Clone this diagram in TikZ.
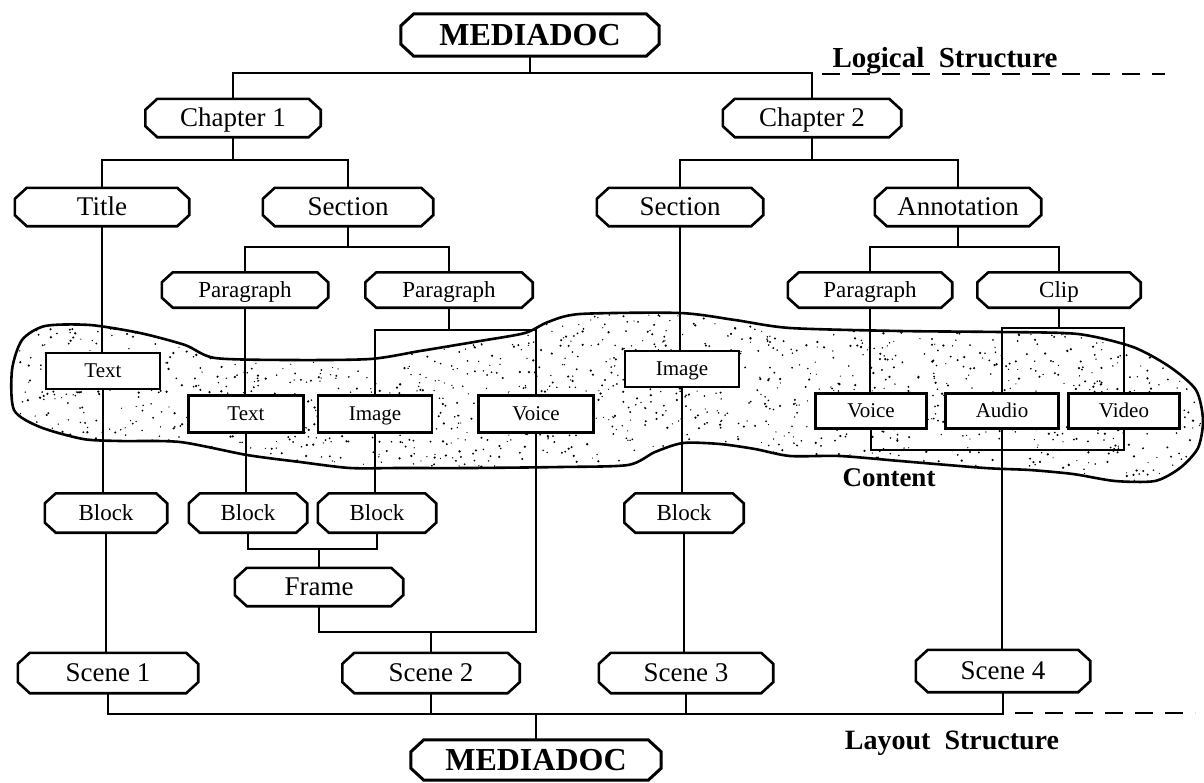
\documentclass[tikz,border=0pt]{standalone}
\usepackage{fontspec}
\setmainfont{Liberation Serif}
\begin{document}
\begin{tikzpicture}[x=1pt,y=-1pt,
  box/.style={rectangle, inner sep=0pt, text depth=0pt},
  bigbox/.style={box, minimum height=42pt, text height=21pt,
    font=\fontsize{32}{34}\selectfont\bfseries},
  lbox/.style={box, minimum height=38pt, text height=17.8pt,
    font=\fontsize{27}{30}\selectfont},
  sbox/.style={box, minimum height=35pt, text height=15.2pt,
    font=\fontsize{23}{26}\selectfont},
  item/.style={rectangle, draw, line width=2.6pt, fill=white, inner sep=0pt,
    text height=13.9pt, text depth=0pt,
    minimum height=36pt, font=\fontsize{21}{23}\selectfont},
  outline/.style={line join=miter},
  link/.style={line width=2.2pt},
  dashline/.style={line width=2.6pt, dash pattern=on 18pt off 12pt},
  tag/.style={font=\fontsize{28}{30}\selectfont\bfseries, inner sep=0pt}]

\useasboundingbox (0,0) rectangle (1204,782);

% ---- the stippled content region ----
\def\contentregion{plot[smooth cycle, tension=0.45] coordinates {
  (12,370) (22,340) (45,326) (90,325) (140,333) (185,345) (215,358)
  (290,360) (370,359) (420,351) (480,341) (525,333) (548,322) (580,314)
  (680,313) (735,320) (790,328) (900,331) (1000,332) (1078,334)
  (1133,347) (1170,367) (1196,390) (1203,420) (1198,448) (1180,468)
  (1155,481) (1115,481) (1073,474) (1030,470) (985,468) (900,461)
  (840,456) (790,456) (755,449) (720,444) (683,443) (655,452) (628,465)
  (560,467) (470,468) (400,468) (350,468) (300,462) (247,455) (180,442)
  (120,441) (83,439) (40,427) (14,410)}}
\begin{scope}
  \clip \contentregion;
  \pgfmathsetseed{11}
  \foreach \i in {1,...,1900}{
    \pgfmathsetmacro{\rx}{12+1190*rnd}
    \pgfmathsetmacro{\ry}{312+172*rnd}
    \pgfmathsetmacro{\rr}{0.6+0.7*rnd}
    \fill (\rx,\ry) circle[radius=\rr pt];
  }
\end{scope}
\draw[line width=2.6pt] \contentregion;

% ---- logical structure ----
\node[bigbox, minimum width=258pt] (top) at (530,35) {MEDIADOC};
\node[lbox, minimum width=175pt] (ch1) at (233,118) {Chapter 1};
\node[lbox, minimum width=178pt] (ch2) at (812,118) {Chapter 2};
\node[lbox, minimum width=174pt] (title) at (102,207) {Title};
\node[lbox, minimum width=170pt] (sec1) at (348,207) {Section};
\node[lbox, minimum width=166pt] (sec2) at (680,207) {Section};
\node[lbox, minimum width=166pt] (annot) at (958,207) {Annotation};
\node[sbox, minimum width=166pt] (para1) at (245,290) {Paragraph};
\node[sbox, minimum width=167pt] (para2) at (449,290) {Paragraph};
\node[sbox, minimum width=164pt] (para3) at (870,290) {Paragraph};
\node[sbox, minimum width=163pt] (clip) at (1059,290) {Clip};

% ---- content items ----
\node[item, minimum width=114pt] (text1) at (103,371) {Text};
\node[item, minimum width=115pt, minimum height=37pt] (text2) at (246,414) {Text};
\node[item, minimum width=114pt, minimum height=37pt] (image1) at (375,414) {Image};
\node[item, minimum width=115pt, minimum height=37pt] (voice1) at (536,414) {Voice};
\node[item, minimum width=114pt] (image2) at (682,369) {Image};
\node[item, minimum width=111pt, minimum height=35pt] (voice2) at (871,411) {Voice};
\node[item, minimum width=113pt, minimum height=35pt] (audio) at (1002,411) {Audio};
\node[item, minimum width=111pt, minimum height=35pt] (video) at (1124,411) {Video};
\node[tag, font=\fontsize{27}{30}\selectfont\bfseries] (content) at (889,478) {Content};

% ---- layout structure ----
\node[sbox, minimum width=122pt, minimum height=39pt] (block1) at (106,513) {Block};
\node[sbox, minimum width=118pt, minimum height=39pt] (block2) at (248,513) {Block};
\node[sbox, minimum width=118pt, minimum height=39pt] (block3) at (377,513) {Block};
\node[sbox, minimum width=119pt, minimum height=39pt] (block4) at (684,513) {Block};
\node[lbox, minimum width=168pt] (frame) at (319,587) {Frame};
\node[lbox, minimum width=180pt, minimum height=40pt] (scene1) at (108,673) {Scene 1};
\node[lbox, minimum width=177pt, minimum height=40pt] (scene2) at (431,673) {Scene 2};
\node[lbox, minimum width=174pt, minimum height=40pt] (scene3) at (686,673) {Scene 3};
\node[lbox, minimum width=174pt, minimum height=42pt] (scene4) at (1003,671) {Scene 4};
\node[bigbox, minimum width=250pt, minimum height=40pt] (bot) at (536,760) {MEDIADOC};

\node[tag, font=\fontsize{29}{31}\selectfont\bfseries, anchor=base] (logical) at (945,67) {Logical\ \ Structure};
\node[tag, anchor=base] (layout) at (952,749) {Layout\ \ Structure};

% ---- octagonal outlines of the structure nodes ----
\foreach \n/\cx/\cy/\lw in {top/13/12/3, bot/13/12/3,
    ch1/12/11/2.6, ch2/12/11/2.6, title/12/11/2.6, sec1/12/11/2.6,
    sec2/12/11/2.6, annot/12/11/2.6, frame/12/11/2.6, scene1/12/11/2.6,
    scene2/12/11/2.6, scene3/12/11/2.6, scene4/12/11/2.6,
    para1/11/10/2.6, para2/11/10/2.6, para3/11/10/2.6, clip/11/10/2.6,
    block1/11/10/2.6, block2/11/10/2.6, block3/11/10/2.6, block4/11/10/2.6}{
  \draw[outline, line width=\lw pt]
    ([xshift=\cx pt]\n.north west) -- ([xshift=-\cx pt]\n.north east)
    -- ([yshift=-\cy pt]\n.north east) -- ([yshift=\cy pt]\n.south east)
    -- ([xshift=-\cx pt]\n.south east) -- ([xshift=\cx pt]\n.south west)
    -- ([yshift=\cy pt]\n.south west) -- ([yshift=-\cy pt]\n.north west)
    -- cycle;
}

% ---- connectors: logical tree ----
\draw[link] (top.south) -- ++(0,17) coordinate (b0);
\draw[link] (ch1.north) |- (b0) -| (ch2.north);
\draw[link] (ch1.south) -- ++(0,23) coordinate (b1);
\draw[link] (title.north) |- (b1) -| (sec1.north);
\draw[link] (ch2.south) -- ++(0,23) coordinate (b2);
\draw[link] (sec2.north) |- (b2) -| (annot.north);
\draw[link] (sec1.south) -- ++(0,21) coordinate (b3);
\draw[link] (para1.north) |- (b3) -| (para2.north);
\draw[link] (annot.south) -- ++(0,21) coordinate (b4);
\draw[link] (para3.north) |- (b4) -| (clip.north);

% ---- connectors: down to the content ----
\draw[link] (title.south) -- (title.south |- text1.north);
\draw[link] (para1.south) -- (para1.south |- text2.north);
\draw[link] (para2.south) -- ++(0,22) coordinate (b5);
\draw[link] (image1.north) |- (b5) -| (voice1.north);
\draw[link] (sec2.south) -- (sec2.south |- image2.north);
\draw[link] (para3.south) -- (para3.south |- voice2.north);
\draw[link] (clip.south) -- ++(0,20) coordinate (b6);
\draw[link] (audio.north) |- (b6) -| (video.north);
\draw[link] (voice2.south) -- ++(0,20) -| (video.south);

% ---- connectors: layout tree ----
\draw[link] (text1.south) -- (text1.south |- block1.north);
\draw[link] (text2.south) -- (text2.south |- block2.north);
\draw[link] (image1.south) -- (image1.south |- block3.north);
\draw[link] (image2.south) -- (image2.south |- block4.north);
\draw[link] (block2.south) -- ++(0,16) coordinate (b7) -| (block3.south);
\draw[link] (frame.north) -- (frame.north |- b7);
\draw[link] (frame.south) -- ++(0,26) coordinate (b8) -| (voice1.south);
\draw[link] (scene2.north) -- (scene2.north |- b8);
\draw[link] (block1.south) -- (block1.south |- scene1.north);
\draw[link] (block4.south) -- (block4.south |- scene3.north);
\draw[link] (audio.south) -- (audio.south |- scene4.north);
\draw[link] (bot.north) -- ++(0,-26) coordinate (b9);
\draw[link] (scene1.south) |- (b9) -| (scene4.south);
\draw[link] (scene2.south) -- (scene2.south |- b9);
\draw[link] (scene3.south) -- (scene3.south |- b9);

% ---- dashed boundaries between the structures ----
\coordinate (logicalstart) at (822,74);
\coordinate (logicalend) at (1165,74);
\coordinate (layoutstart) at (1015,713);
\coordinate (layoutend) at (1195,713);
\draw[dashline] (logicalstart) -- (logicalend);
\draw[dashline] (layoutstart) -- (layoutend);
\end{tikzpicture}
\end{document}
